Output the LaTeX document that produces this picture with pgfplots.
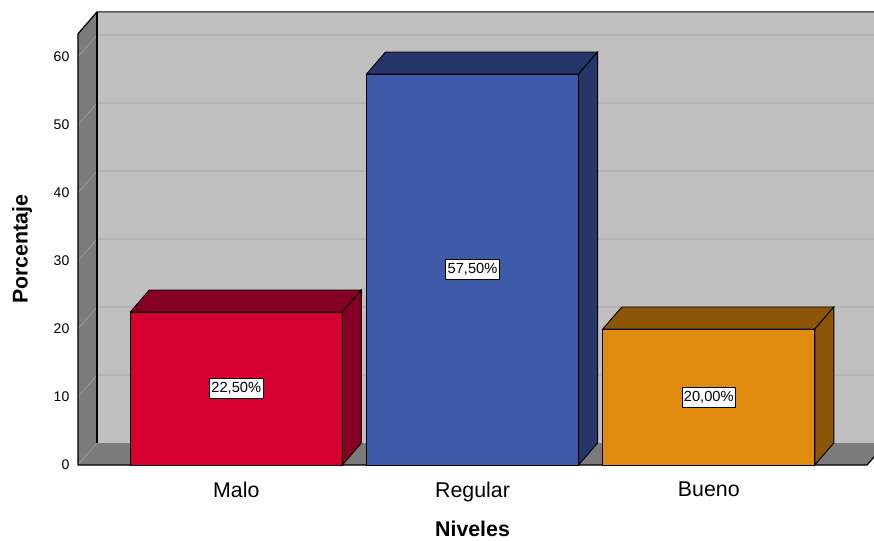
\documentclass[border=0pt]{standalone}
\usepackage{pgfplots}
\pgfplotsset{compat=1.18}
\usepackage{fontspec}
\setmainfont{Liberation Sans}
\definecolor{wall}{HTML}{C0C0C0}
\definecolor{floorc}{HTML}{7B7B7B}
\definecolor{gridw}{HTML}{B3B3B3}
\definecolor{grids}{HTML}{9C9C9C}
\definecolor{redF}{HTML}{D50030}
\definecolor{redD}{HTML}{850022}
\definecolor{bluF}{HTML}{3E5BA9}
\definecolor{bluD}{HTML}{253769}
\definecolor{orgF}{HTML}{E08A0E}
\definecolor{orgD}{HTML}{8C5609}
\begin{document}
\begin{tikzpicture}
\begin{axis}[
  x=177.1875pt, y=5.1pt,
  xmin=0.33, xmax=3.67, ymin=0, ymax=63.4,
  clip=false,
  axis line style={draw=none},
  tick style={draw=none},
  xtick={1,2,3},
  xticklabels={Malo,Regular,Bueno},
  ytick={0,10,20,30,40,50,60},
  /pgf/number format/assume math mode=true,
  yticklabel style={font=\fontsize{10.5}{12}\selectfont, xshift=-3pt},
  xticklabel style={font=\fontsize{16}{18}\selectfont, yshift=-9pt},
  xlabel={Niveles},
  ylabel={Porcentaje},
  xlabel style={font=\fontsize{16}{18}\selectfont\bfseries, at={(axis description cs:0.5,0)}, anchor=center, yshift=-48pt},
  ylabel style={font=\fontsize{16}{18}\selectfont\bfseries, at={(axis description cs:0,0.5)}, anchor=center, yshift=42pt},
]
% frame: back wall, left side and floor
\addplot[fill=wall, draw=none] coordinates {(0.4104,3.235) (3.7504,3.235) (3.7504,66.635) (0.4104,66.635)} -- cycle;
\addplot[fill=floorc, draw=none] coordinates {(0.33,0) (0.4104,3.235) (0.4104,66.635) (0.33,63.4)} -- cycle;
\addplot[fill=floorc, draw=none] coordinates {(0.33,0) (3.67,0) (3.7504,3.235) (0.4104,3.235)} -- cycle;
\pgfplotsinvokeforeach{13.235,23.235,33.235,43.235,53.235,63.235}{
  \draw[gridw, line width=0.8pt] (axis cs:0.4104,#1) -- (axis cs:3.7504,#1);
}
\pgfplotsinvokeforeach{0,10,20,30,40,50,60}{
  \draw[grids, line width=0.6pt] (axis cs:0.33,#1) -- ([shift={(14.25pt,16.5pt)}]axis cs:0.33,#1);
}
\draw[black, line width=0.9pt] (axis cs:0.4104,3.235) -- (axis cs:0.4104,66.635);
\draw[black, line width=0.9pt] (axis cs:0.33,0) -- (axis cs:0.33,63.4) -- (axis cs:0.4104,66.635) -- (axis cs:3.7504,66.635);
\draw[black, line width=0.9pt] (axis cs:0.33,0) -- (axis cs:3.67,0) -- (axis cs:3.7504,3.235);
\coordinate (O) at (axis cs:0.33,0);
% bars: front faces
\addplot[ybar, bar shift=0pt, bar width=0.8974, fill=redF, draw=black, line width=0.7pt] coordinates {(1,22.5)};
\addplot[ybar, bar shift=0pt, bar width=0.8974, fill=bluF, draw=black, line width=0.7pt] coordinates {(2,57.5)};
\addplot[ybar, bar shift=0pt, bar width=0.8974, fill=orgF, draw=black, line width=0.7pt] coordinates {(3,20)};
% top and side faces
\addplot[fill=redD, draw=black, line width=0.7pt] coordinates {(0.5513,22.5) (1.4487,22.5) (1.5291,25.735) (0.6317,25.735)} -- cycle;
\addplot[fill=redD, draw=black, line width=0.7pt] coordinates {(1.4487,0) (1.5291,3.235) (1.5291,25.735) (1.4487,22.5)} -- cycle;
\addplot[fill=bluD, draw=black, line width=0.7pt] coordinates {(1.5513,57.5) (2.4487,57.5) (2.5291,60.735) (1.6317,60.735)} -- cycle;
\addplot[fill=bluD, draw=black, line width=0.7pt] coordinates {(2.4487,0) (2.5291,3.235) (2.5291,60.735) (2.4487,57.5)} -- cycle;
\addplot[fill=orgD, draw=black, line width=0.7pt] coordinates {(2.5513,20) (3.4487,20) (3.5291,23.235) (2.6317,23.235)} -- cycle;
\addplot[fill=orgD, draw=black, line width=0.7pt] coordinates {(3.4487,0) (3.5291,3.235) (3.5291,23.235) (3.4487,20)} -- cycle;
% value labels
\addplot[draw=none, mark=none, point meta=explicit symbolic,
  nodes near coords,
  every node near coord/.append style={anchor=center, fill=white, draw=black, line width=0.5pt, inner xsep=1.5pt, inner ysep=3pt, font=\fontsize{11}{12}\selectfont}]
  coordinates {(1,11.25) [{22,50\%}] (2,28.75) [{57,50\%}] (3,10) [{20,00\%}]};
\end{axis}
\pgfresetboundingbox
\useasboundingbox ([shift={(-58.5pt,-56.25pt)}]O) rectangle ([shift={(597pt,348.75pt)}]O);
\end{tikzpicture}
\end{document}
